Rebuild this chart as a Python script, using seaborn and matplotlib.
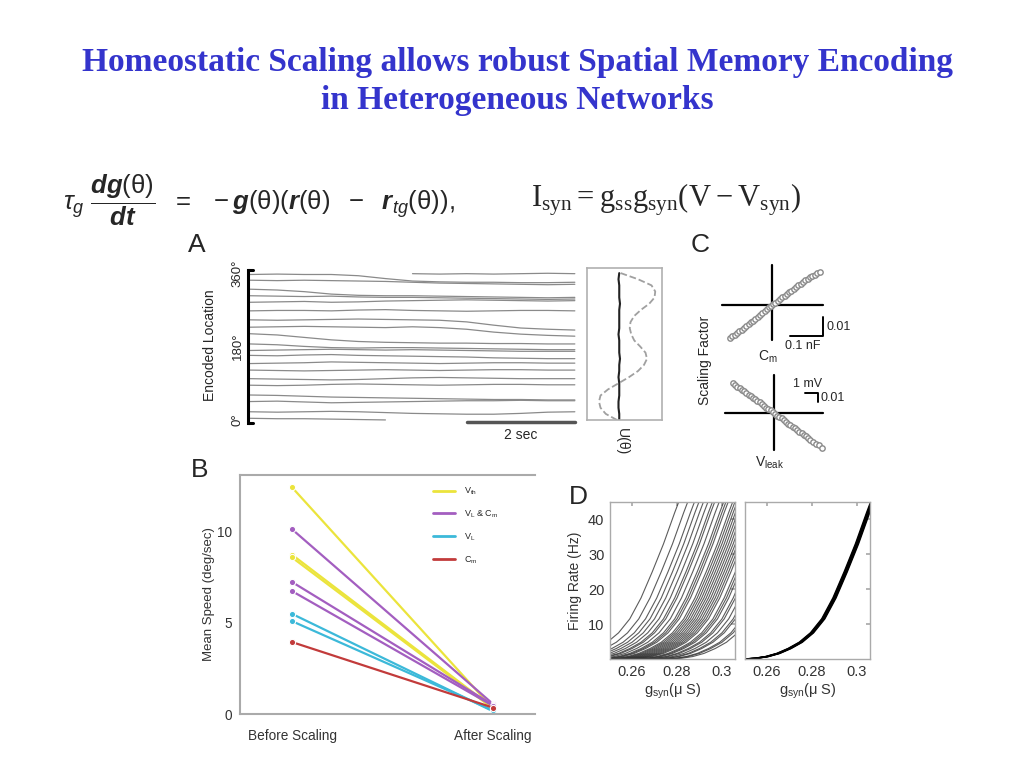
"""
Homeostatic scaling slide: encoded-location drift, mean speed, scaling factors, f-I curves.
"""

import numpy as np
import pandas as pd
import matplotlib
matplotlib.use('Agg')
import matplotlib.pyplot as plt
import seaborn as sns
from matplotlib.lines import Line2D


# =============================================================================
# DATA
# =============================================================================

# Panel A: encoded location (deg) of each bump, sampled every 0.5 s
TRACE_TIME = [0.0, 0.5, 1.0, 1.5, 2.0, 2.5, 3.0, 3.5, 4.0, 4.5, 5.0, 5.5, 6.0]
ENCODED_TRACES = [
    [356, 357, 356, 356, 353, 346, 340, 338, 337, 337, 336, 336, 337],
    [342, 341, 342, 341, 340, 339, 337, 335, 334, 333, 332, 331, 332],
    [320, 318, 314, 308, 305, 304, 304, 303, 302, 301, 300, 299, 300],
    [304, 303, 302, 303, 301, 300, 300, 299, 298, 297, 296, 295, 296],
    [288, 289, 290, 288, 289, 291, 292, 293, 294, 293, 292, 291, 292],
    [267, 268, 268, 267, 269, 270, 268, 267, 266, 267, 268, 268, 267],
    [245, 244, 245, 246, 247, 246, 245, 244, 240, 232, 225, 222, 220],
    [227, 228, 229, 228, 227, 226, 228, 226, 222, 215, 210, 207, 205],
    [211, 208, 202, 196, 192, 190, 189, 188, 188, 187, 187, 186, 186],
    [186, 184, 180, 177, 176, 177, 177, 176, 175, 174, 173, 172, 172],
    [170, 171, 172, 173, 172, 171, 172, 171, 170, 169, 168, 168, 168],
    [158, 157, 159, 160, 158, 157, 156, 155, 154, 152, 151, 150, 150],
    [138, 139, 140, 142, 141, 140, 139, 138, 139, 140, 140, 139, 139],
    [122, 121, 120, 121, 122, 123, 122, 121, 122, 123, 123, 122, 122],
    [101, 100, 99, 98, 99, 101, 103, 104, 103, 102, 101, 101, 101],
    [85, 84, 85, 87, 88, 87, 86, 85, 86, 87, 87, 86, 86],
    [61, 60, 58, 56, 55, 54, 53, 52, 51, 50, 50, 49, 49],
    [45, 46, 44, 42, 43, 44, 45, 46, 47, 47, 48, 47, 47],
    [20, 19, 20, 21, 20, 18, 16, 15, 14, 14, 16, 19, 20],
    [4, 3, 3, 2, 1, 0, -2, -3, -2, -3, -2, -1, -2],
]

# Panel A inset: potential U(theta)
THETA_U = [0, 15, 30, 45, 60, 75, 90, 105, 120, 135, 150, 165, 180,
           195, 210, 225, 240, 255, 270, 285, 300, 315, 330, 345, 360]
U_BEFORE = [0.40, 0.25, 0.18, 0.16, 0.18, 0.28, 0.42, 0.56, 0.68, 0.76, 0.80, 0.78, 0.71,
            0.63, 0.59, 0.57, 0.58, 0.63, 0.72, 0.83, 0.90, 0.91, 0.86, 0.68, 0.45]
U_AFTER = [0.43, 0.43, 0.42, 0.42, 0.43, 0.43, 0.43, 0.42, 0.43, 0.43, 0.44, 0.43, 0.43,
           0.43, 0.42, 0.43, 0.43, 0.43, 0.43, 0.44, 0.43, 0.43, 0.43, 0.42, 0.43]

# Panel B: mean drift speed (deg/sec)
SPEED_GROUP = ['Vth', 'VL&Cm', 'Vth', 'Vth', 'VL&Cm', 'VL&Cm', 'VL', 'VL', 'Cm']
SPEED_BEFORE = [12.45, 10.15, 8.75, 8.6, 7.25, 6.75, 5.5, 5.1, 3.95]
SPEED_AFTER = [0.3, 0.55, 0.35, 0.3, 0.5, 0.45, 0.15, 0.2, 0.35]
STAGE_LABELS = ['Before Scaling', 'After Scaling']
GROUP_ORDER = ['Vth', 'VL&Cm', 'VL', 'Cm']
GROUP_LABELS = [r'V$_\mathrm{th}$', r'V$_\mathrm{L}$ & C$_\mathrm{m}$',
                r'V$_\mathrm{L}$', r'C$_\mathrm{m}$']
GROUP_COLORS = {'Vth': '#EBE43C', 'VL&Cm': '#A35EC0', 'VL': '#3CB9D9', 'Cm': '#C23B3B'}

# Panel C: scaling factor vs membrane capacitance (nF) / leak reversal (mV) deviation
CM_DEV = [-0.127, -0.120, -0.113, -0.106, -0.099, -0.092, -0.085, -0.078, -0.071, -0.064,
          -0.057, -0.050, -0.043, -0.036, -0.029, -0.022, -0.015, -0.008, -0.002, 0.004,
          0.010, 0.017, 0.024, 0.031, 0.038, 0.045, 0.052, 0.059, 0.066, 0.073,
          0.080, 0.087, 0.094, 0.101, 0.108, 0.115, 0.122, 0.129, 0.137, 0.145]
CM_SCALE = [-0.0174, -0.0165, -0.0157, -0.0148, -0.0139, -0.0130, -0.0121, -0.0111, -0.0101, -0.0091,
            -0.0082, -0.0072, -0.0062, -0.0052, -0.0042, -0.0032, -0.0022, -0.0012, -0.0003, 0.0005,
            0.0013, 0.0022, 0.0031, 0.0040, 0.0049, 0.0058, 0.0067, 0.0076, 0.0085, 0.0094,
            0.0103, 0.0112, 0.0120, 0.0129, 0.0137, 0.0145, 0.0153, 0.0160, 0.0167, 0.0174]
VL_DEV = [-3.15, -2.98, -2.81, -2.64, -2.47, -2.30, -2.13, -1.96, -1.79, -1.62,
          -1.45, -1.28, -1.11, -0.94, -0.77, -0.60, -0.43, -0.26, -0.09, 0.08,
          0.25, 0.42, 0.59, 0.76, 0.93, 1.10, 1.27, 1.44, 1.61, 1.78,
          1.95, 2.12, 2.29, 2.46, 2.63, 2.80, 3.00, 3.20, 3.45, 3.70]
VL_SCALE = [0.033, 0.031, 0.029, 0.028, 0.026, 0.024, 0.022, 0.020, 0.019, 0.017,
            0.015, 0.013, 0.012, 0.010, 0.008, 0.006, 0.004, 0.003, 0.001, -0.001,
            -0.003, -0.004, -0.006, -0.008, -0.010, -0.012, -0.013, -0.015, -0.017, -0.019,
            -0.021, -0.022, -0.024, -0.026, -0.028, -0.030, -0.032, -0.034, -0.036, -0.039]

# Panel D: firing rate (Hz) vs synaptic conductance (uS)
FI_G = [0.210, 0.240, 0.250, 0.255, 0.260, 0.265, 0.270, 0.275, 0.280,
        0.285, 0.290, 0.295, 0.300, 0.305, 0.310, 0.320, 0.335]
FI_RATE = [0.0, 0.0, 0.0, 0.2, 0.7, 1.6, 3.0, 4.8, 7.5,
           11.5, 17.5, 25.0, 33.0, 42.0, 50.5, 67.5, 93.0]
# threshold offsets of individual neurons before / after scaling
SHIFTS_BEFORE = [-0.027, -0.025, -0.024, -0.021, -0.020, -0.018, -0.016, -0.015, -0.013,
                 -0.012, -0.011, -0.009, -0.008, -0.007, -0.006, -0.005, -0.004, -0.003,
                 -0.002, -0.001, 0.000, 0.001, 0.002, 0.004, 0.005, 0.006, 0.008, 0.010,
                 0.011, 0.013, 0.015, 0.017, 0.019, 0.022, 0.026]
SHIFTS_AFTER = [-0.0007, -0.0004, -0.0002, 0.0, 0.0002, 0.0004, 0.0007]


# =============================================================================
# STYLE / LAYOUT HELPERS
# =============================================================================

sns.set_theme(style='white')
plt.rcParams['font.family'] = ['Liberation Sans', 'DejaVu Sans']
plt.rcParams.update({
    'mathtext.fontset': 'custom',
    'mathtext.rm': 'Liberation Sans',
    'mathtext.it': 'Liberation Sans:italic',
    'mathtext.bf': 'Liberation Sans:bold:italic',
    'mathtext.sf': 'Liberation Serif',
})

W, H = 1024, 768
fig = plt.figure(figsize=(10.24, 7.68), dpi=100)
fig.patch.set_facecolor('white')


def px_axes(x0, y0, x1, y1):
    """Axes from slide pixel box (top-left origin)."""
    return fig.add_axes([x0 / W, 1 - y1 / H, (x1 - x0) / W, (y1 - y0) / H])


def fx(x):
    return x / W


def fy(y):
    return 1 - y / H


# =============================================================================
# TITLE AND EQUATIONS
# =============================================================================

TITLE_BLUE = '#3434CC'
fig.text(fx(517), fy(62), 'Homeostatic Scaling allows robust Spatial Memory Encoding',
         ha='center', va='center', family='Liberation Serif', weight='bold',
         size=24, color=TITLE_BLUE)
fig.text(fx(517), fy(101), 'in Heterogeneous Networks',
         ha='center', va='center', family='Liberation Serif', weight='bold',
         size=24, color=TITLE_BLUE)

fig.text(fx(63), fy(200),
         r'$\tau_{g}\ \dfrac{\mathbf{dg}(\mathrm{θ})}{\mathbf{dt}}\ \ =\ \ '
         r'-\mathbf{g}(\mathrm{θ})(\mathbf{r}(\mathrm{θ})\ \ -\ \ \mathbf{r}_{tg}(\mathrm{θ})),$',
         ha='left', va='center', size=18.5)
fig.text(fx(531), fy(200),
         r'$\mathsf{I_{syn} = g_{ss}g_{syn}(V-V_{syn})}$',
         ha='left', va='center', size=22)

for letter, (x, y) in {'A': (197, 245), 'B': (200, 470),
                       'C': (700, 245), 'D': (578, 497)}.items():
    fig.text(fx(x), fy(y), letter, ha='center', va='center', size=19)


# =============================================================================
# PANEL A: drift of encoded location
# =============================================================================

ax_a = px_axes(248, 270, 577, 423)
rows = []
for i, trace in enumerate(ENCODED_TRACES):
    vals = np.mod(np.array(trace, dtype=float), 360)
    seg = 0
    for j, (t, v) in enumerate(zip(TRACE_TIME, vals)):
        if j > 0 and abs(v - vals[j - 1]) > 180:
            seg += 1  # wrapped around the ring
        rows.append({'t': t, 'loc': v, 'unit': f'{i}-{seg}'})
df_a = pd.DataFrame(rows)
sns.lineplot(data=df_a, x='t', y='loc', units='unit', estimator=None,
             color='#8a8a8a', lw=0.9, legend=False, ax=ax_a)
ax_a.set_xlim(-0.04, 6.04)
ax_a.set_ylim(-7.5, 367)
for side in ['top', 'right', 'bottom']:
    ax_a.spines[side].set_visible(False)
ax_a.spines['left'].set_linewidth(2.2)
ax_a.spines['left'].set_color('black')
ax_a.plot([-0.04, 0.06], [367, 367], color='black', lw=2.2, clip_on=False)
ax_a.plot([-0.04, 0.06], [-7.5, -7.5], color='black', lw=2.2, clip_on=False)
ax_a.set_xticks([])
ax_a.set_yticks([0, 180, 360])
ax_a.set_yticklabels(['0°', '180°', '360°'], rotation=90, va='center', fontsize=9.5)
ax_a.tick_params(axis='y', length=0, pad=3)
ax_a.set_xlabel('')
ax_a.set_ylabel('Encoded Location', fontsize=10)
ax_a.yaxis.set_label_coords(-0.094, 0.51)
# 2 s scale bar
ax_a.plot([4, 6], [-5, -5], color='#555555', lw=2.5, clip_on=False)
ax_a.text(5.0, -37, '2 sec', ha='center', va='center', fontsize=10)

# inset: potential before (dashed) and after (solid) scaling
ax_u = px_axes(587, 268, 662, 420)
sns.lineplot(x=U_BEFORE, y=THETA_U, sort=False, estimator=None,
             color='#a0a0a0', lw=1.3, linestyle='--', ax=ax_u)
sns.lineplot(x=U_AFTER, y=THETA_U, sort=False, estimator=None,
             color='#222222', lw=1.5, ax=ax_u)
ax_u.set_xlim(0, 1)
ax_u.set_ylim(0, 372.5)
ax_u.set_xticks([])
ax_u.set_yticks([])
for sp in ax_u.spines.values():
    sp.set_color('#b0b0b0')
    sp.set_linewidth(1.2)
fig.text(fx(622), fy(442), 'U(θ)', rotation=270, ha='center', va='center', size=10)


# =============================================================================
# PANEL B: mean speed before / after scaling
# =============================================================================

ax_b = px_axes(240, 475, 535, 714)
rows = []
for i, (grp, b, a) in enumerate(zip(SPEED_GROUP, SPEED_BEFORE, SPEED_AFTER)):
    rows.append({'run': i, 'stage': 0, 'speed': b, 'group': grp})
    rows.append({'run': i, 'stage': 1, 'speed': a, 'group': grp})
df_b = pd.DataFrame(rows)
sns.lineplot(data=df_b, x='stage', y='speed', hue='group', hue_order=GROUP_ORDER,
             units='run', estimator=None, palette=GROUP_COLORS, lw=1.6,
             marker='o', markersize=4.5, markeredgewidth=0.8, legend=False, ax=ax_b)
ax_b.set_xlim(-0.259, 1.209)
ax_b.set_ylim(0, 13.13)
ax_b.set_xticks([0, 1])
ax_b.set_xticklabels(STAGE_LABELS, fontsize=9.8, color='#333333')
ax_b.set_yticks([0, 5, 10])
ax_b.set_yticklabels(['0', '5', '10'], fontsize=9.8, color='#333333')
ax_b.tick_params(axis='x', length=0, pad=11)
ax_b.tick_params(axis='y', length=0, pad=6)
ax_b.set_xlabel('')
ax_b.set_ylabel('Mean Speed (deg/sec)', fontsize=9.5, color='#333333')
ax_b.yaxis.set_label_coords(-0.085, 0.5)
ax_b.spines['right'].set_visible(False)
for side in ['left', 'top', 'bottom']:
    ax_b.spines[side].set_color('#aaaaaa')
    ax_b.spines[side].set_linewidth(1.5)
handles = [Line2D([], [], color=GROUP_COLORS[g], lw=2) for g in GROUP_ORDER]
ax_b.legend(handles, GROUP_LABELS, loc='upper left', bbox_to_anchor=(0.655, 0.955),
            frameon=False, fontsize=6.5, handlelength=2.4, handletextpad=1.0,
            labelspacing=1.25, borderaxespad=0, borderpad=0)


# =============================================================================
# PANEL C: scaling factor vs parameter deviation
# =============================================================================

def cross_axes(box, xlim, ylim, vline, hline):
    ax = px_axes(*box)
    ax.set_xlim(*xlim)
    ax.set_ylim(*ylim)
    ax.axis('off')
    ax.plot([0, 0], vline, color='black', lw=1.6)
    ax.plot(hline, [0, 0], color='black', lw=1.6)
    return ax


ax_c1 = cross_axes((715, 258, 850, 345), (-0.1727, 0.2364), (-0.02105, 0.02474),
                   (0.02105, -0.01842), (-0.1515, 0.1545))
sns.scatterplot(x=CM_DEV, y=CM_SCALE, marker='o', s=15, color='white',
                edgecolor='#8a8a8a', linewidth=1.0, zorder=3, ax=ax_c1)
ax_c1.plot([0.0545, 0.1545, 0.1545], [-0.0163, -0.0163, -0.0063], color='black', lw=1.4)
ax_c1.text(0.165, -0.0118, '0.01', ha='left', va='center', fontsize=9)
ax_c1.text(0.094, -0.0218, '0.1 nF', ha='center', va='center', fontsize=9)
ax_c1.text(-0.012, -0.0275, r'C$_\mathrm{m}$', ha='center', va='center', fontsize=10)

ax_c2 = cross_axes((715, 365, 850, 470), (-4.54, 5.85), (-0.0633, 0.0533),
                   (0.0422, -0.0411), (-3.77, 3.77))
sns.scatterplot(x=VL_DEV, y=VL_SCALE, marker='o', s=15, color='white',
                edgecolor='#8a8a8a', linewidth=1.0, zorder=3, ax=ax_c2)
ax_c2.plot([2.38, 3.38, 3.38], [0.0222, 0.0222, 0.0122], color='black', lw=1.4)
ax_c2.text(2.6, 0.032, '1 mV', ha='center', va='center', fontsize=9)
ax_c2.text(3.6, 0.0167, '0.01', ha='left', va='center', fontsize=9)
ax_c2.text(-0.3, -0.055, r'V$_\mathrm{leak}$', ha='center', va='center', fontsize=10)

fig.text(fx(705), fy(360), 'Scaling Factor', rotation=90, ha='center', va='center', size=10)


# =============================================================================
# PANEL D: f-I curves before / after scaling
# =============================================================================

def fi_frame(shifts):
    g = np.array(FI_G)
    return pd.DataFrame([{'cell': k, 'g': gi - s, 'rate': r}
                         for k, s in enumerate(shifts)
                         for gi, r in zip(g, FI_RATE)])


ax_d1 = px_axes(610, 502, 735, 659)
ax_d2 = px_axes(745, 502, 870, 659)
sns.lineplot(data=fi_frame(SHIFTS_BEFORE), x='g', y='rate', units='cell', estimator=None,
             color='#333333', alpha=0.8, lw=0.8, legend=False, ax=ax_d1)
sns.lineplot(data=fi_frame(SHIFTS_AFTER), x='g', y='rate', units='cell', estimator=None,
             color='black', lw=1.0, legend=False, ax=ax_d2)
for ax in (ax_d1, ax_d2):
    ax.set_xlim(0.2502, 0.3058)
    ax.set_ylim(0, 45)
    ax.set_xticks([0.26, 0.28, 0.30])
    ax.set_xticklabels(['0.26', '0.28', '0.3'], fontsize=10.5, color='#333333')
    ax.set_yticks([10, 20, 30, 40])
    ax.tick_params(direction='in', top=True, right=True, length=3, color='#aaaaaa', pad=4)
    for sp in ax.spines.values():
        sp.set_color('#aaaaaa')
        sp.set_linewidth(1.0)
    ax.set_xlabel(r'g$_\mathrm{syn}$(μ S)', fontsize=10.5, color='#333333', labelpad=2)
    ax.set_ylabel('')
ax_d1.set_yticklabels(['10', '20', '30', '40'], fontsize=10.5, color='#333333')
ax_d2.set_yticklabels([])
ax_d1.set_ylabel('Firing Rate (Hz)', fontsize=10, color='#333333')
ax_d1.yaxis.set_label_coords(-0.224, 0.5)

fig.savefig('out.png', dpi=100, facecolor='white')
